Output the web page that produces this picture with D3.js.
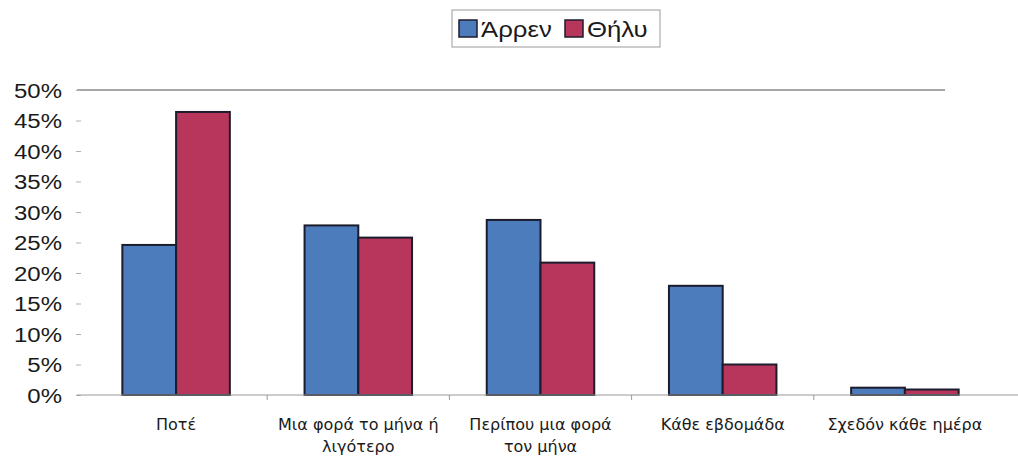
<!DOCTYPE html>
<html>
<head>
<meta charset="utf-8">
<script src="https://cdn.jsdelivr.net/npm/d3@7"></script>
<style>
  html, body { margin: 0; padding: 0; background: #fff; }
  svg { display: block; }
</style>
</head>
<body>
<svg id="chart" width="1018" height="456"></svg>
<script>
const categories = [
  ["Ποτέ"],
  ["Μια φορά το μήνα ή", "λιγότερο"],
  ["Περίπου μια φορά", "τον μήνα"],
  ["Κάθε εβδομάδα"],
  ["Σχεδόν κάθε ημέρα"]
];
const seriesNames = ["Άρρεν", "Θήλυ"];
const maleValues = [0.246, 0.278, 0.287, 0.179, 0.012];
const femaleValues = [0.464, 0.258, 0.217, 0.050, 0.009];
const yTicks = [0, 0.05, 0.10, 0.15, 0.20, 0.25, 0.30, 0.35, 0.40, 0.45, 0.50];
const colors = ["#4d7cbd", "#b8365c"];

const svg = d3.select("#chart");
const catKeys = categories.map(c => c.join(" "));

const x = d3.scaleBand().domain(catKeys).range([85, 996]).paddingInner(0.41).paddingOuter(0.205);
const xs = d3.scaleBand().domain(seriesNames).range([0, x.bandwidth()]);
const y = d3.scaleLinear().domain([0, 0.5]).range([395, 90]);

// top gridline (50%)
svg.append("line")
  .attr("x1", 77).attr("x2", 945)
  .attr("y1", y(0.5)).attr("y2", y(0.5))
  .attr("stroke", "#8a8a8a").attr("stroke-width", 1.5);

// y axis labels
const yAxis = d3.axisLeft(y).tickValues(yTicks).tickFormat(d3.format(".0%")).tickSize(0).tickPadding(0);
const gy = svg.append("g").attr("transform", "translate(62,0)").call(yAxis);
gy.select(".domain").remove();
gy.selectAll("text")
  .attr("font-family", "Liberation Sans, Arial, sans-serif")
  .attr("font-size", 20.5)
  .attr("fill", "#1a1a1a")
  .attr("dy", "0.36em")
  .attr("transform", "scale(1.17,1)");

// small tick marks left of plot
gy.selectAll(".tick").append("line")
  .attr("x1", 14).attr("x2", 19)
  .attr("stroke", "#b0b0b0").attr("stroke-width", 1);

// bars
const data = catKeys.map((k, i) => ({ key: k, vals: [maleValues[i], femaleValues[i]] }));
const groups = svg.append("g").selectAll("g").data(data).join("g")
  .attr("transform", d => `translate(${x(d.key)},0)`);
groups.selectAll("rect").data(d => d.vals.map((v, j) => ({ name: seriesNames[j], v, j })))
  .join("rect")
  .attr("x", d => xs(d.name))
  .attr("width", xs.bandwidth())
  .attr("y", d => y(d.v))
  .attr("height", d => y(0) - y(d.v))
  .attr("fill", d => colors[d.j])
  .attr("stroke", "#1c1c2c")
  .attr("stroke-width", 2);

// baseline and category separators
svg.append("line")
  .attr("x1", 77).attr("x2", 1018)
  .attr("y1", y(0)).attr("y2", y(0))
  .attr("stroke", "#9a9a9a").attr("stroke-width", 1.2);
const step = x.step();
catKeys.slice(1).forEach(k => {
  const bx = x(k) - (step - x.bandwidth()) / 2;
  svg.append("line")
    .attr("x1", bx).attr("x2", bx)
    .attr("y1", y(0)).attr("y2", y(0) + 5)
    .attr("stroke", "#9a9a9a").attr("stroke-width", 1);
});

// category labels
const labels = svg.append("g").selectAll("text").data(categories).join("text")
  .attr("x", (d, i) => x(catKeys[i]) + x.bandwidth() / 2)
  .attr("y", 430)
  .attr("text-anchor", "middle")
  .attr("font-family", "DejaVu Sans, sans-serif")
  .attr("font-size", 16)
  .attr("fill", "#1a1a1a");
labels.selectAll("tspan").data(d => d).join("tspan")
  .attr("x", function () { return d3.select(this.parentNode).attr("x"); })
  .attr("dy", (d, i) => i === 0 ? 0 : 22)
  .text(d => d);

// legend
const lg = svg.append("g");
lg.append("rect")
  .attr("x", 452).attr("y", 10).attr("width", 208).attr("height", 37)
  .attr("fill", "#fff").attr("stroke", "#9a9a9a").attr("stroke-width", 1);
const legendX = [459, 565];
seriesNames.forEach((n, i) => {
  lg.append("rect")
    .attr("x", legendX[i]).attr("y", 20).attr("width", 18).attr("height", 17)
    .attr("fill", colors[i]).attr("stroke", "#1c1c2c").attr("stroke-width", 1.5);
  lg.append("text")
    .attr("x", legendX[i] + 22).attr("y", 37)
    .attr("font-family", "Liberation Sans, Arial, sans-serif")
    .attr("font-size", 23)
    .attr("fill", "#1a1a1a")
    .attr("transform", `translate(${legendX[i] + 22},0) scale(1.12,1) translate(${-(legendX[i] + 22)},0)`)
    .text(n);
});
</script>
</body>
</html>
